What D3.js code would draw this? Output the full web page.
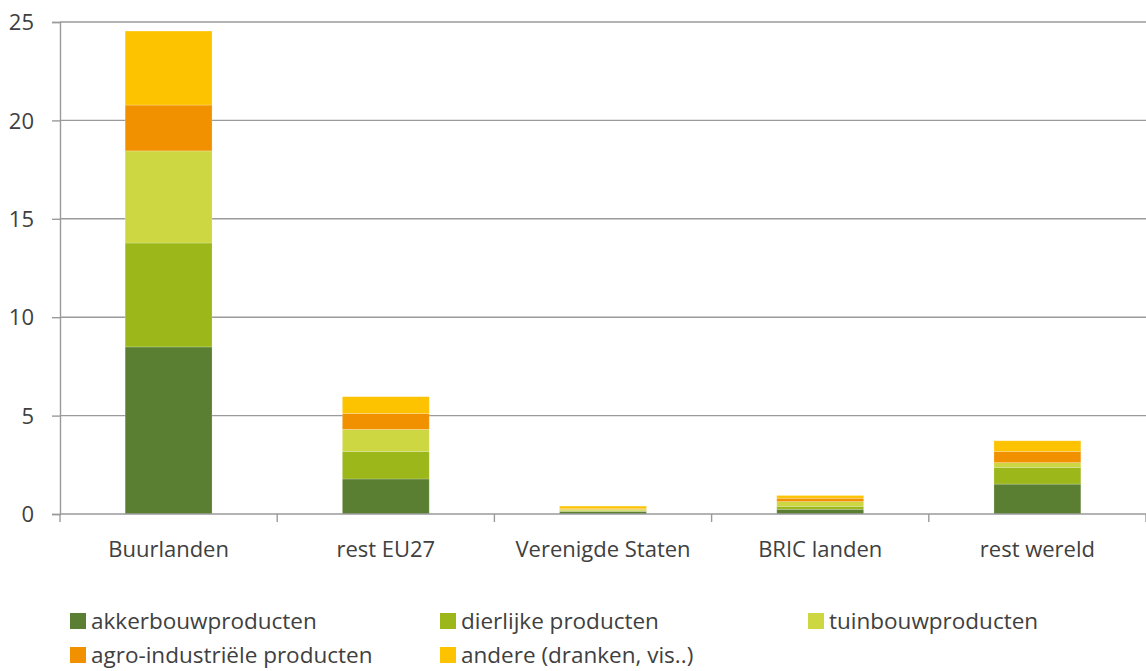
<!DOCTYPE html>
<html>
<head>
<meta charset="utf-8">
<script src="https://cdn.jsdelivr.net/npm/d3@7"></script>
<style>
  body { margin: 0; background: #fff; }
  svg text { font-family: "Open Sans", Lato, sans-serif; fill: #404040; }
</style>
</head>
<body>
<script>
const regions = ['Buurlanden', 'rest EU27', 'Verenigde Staten', 'BRIC landen', 'rest wereld'];
const series = ['akkerbouwproducten', 'dierlijke producten', 'tuinbouwproducten', 'agro-industriële producten', 'andere (dranken, vis..)'];
const colors = ['#5a7f32', '#9bb71a', '#cdd742', '#f29100', '#fdc300'];

const akker = [8.49, 1.78, 0.13, 0.24, 1.52];
const dierlijk = [5.28, 1.40, 0.03, 0.15, 0.85];
const tuinbouw = [4.68, 1.12, 0.08, 0.24, 0.24];
const agro = [2.33, 0.81, 0.03, 0.17, 0.57];
const andere = [3.76, 0.85, 0.13, 0.14, 0.54];
const yTicks = [0, 5, 10, 15, 20, 25];

const W = 1146, H = 671;
const margin = { top: 22, right: 0, bottom: 157, left: 60 };
const width = W - margin.left - margin.right;
const height = H - margin.top - margin.bottom;

const rows = regions.map(function (r, i) {
  return { region: r, akkerbouwproducten: akker[i], 'dierlijke producten': dierlijk[i],
    tuinbouwproducten: tuinbouw[i], 'agro-industriële producten': agro[i], 'andere (dranken, vis..)': andere[i] };
});
const stacked = d3.stack().keys(series)(rows);

const x = d3.scaleBand().domain(regions).range([0, width]).paddingInner(0.6).paddingOuter(0.3);
const y = d3.scaleLinear().domain([0, 25]).range([height, 0]);
const color = d3.scaleOrdinal().domain(series).range(colors);

const svg = d3.select('body').append('svg')
  .attr('width', W).attr('height', H)
  .append('g')
  .attr('transform', 'translate(' + margin.left + ',' + margin.top + ')');

// rasterlijnen
svg.append('g')
  .selectAll('line')
  .data(yTicks.slice(1))
  .enter().append('line')
  .attr('x1', 0).attr('x2', width)
  .attr('y1', function (d) { return y(d); })
  .attr('y2', function (d) { return y(d); })
  .attr('stroke', '#9a9a9a').attr('stroke-width', 1.4);

// balken
svg.append('g')
  .selectAll('g')
  .data(stacked)
  .enter().append('g')
  .attr('fill', function (d) { return color(d.key); })
  .selectAll('rect')
  .data(function (d) { return d; })
  .enter().append('rect')
  .attr('x', function (d) { return x(d.data.region); })
  .attr('width', x.bandwidth())
  .attr('y', function (d) { return y(d[1]); })
  .attr('height', function (d) { return y(d[0]) - y(d[1]); })
  .attr('stroke', 'rgba(255,255,255,0.25)').attr('stroke-width', 0.8);

// y-as
const yAxis = d3.axisLeft(y).tickValues(yTicks).tickSize(8).tickPadding(18);
const gy = svg.append('g').call(yAxis);
gy.select('.domain').attr('stroke', '#9a9a9a').attr('stroke-width', 1.4);
gy.selectAll('.tick line').attr('stroke', '#9a9a9a').attr('stroke-width', 1.4);
gy.selectAll('.tick text').style('font-size', '22px').style('font-family', '"Open Sans", sans-serif').attr('dy', '0.35em');

// x-as
const step = width / regions.length;
const gx = svg.append('g').attr('transform', 'translate(0,' + height + ')');
gx.append('line').attr('x1', 0).attr('x2', width)
  .attr('stroke', '#9a9a9a').attr('stroke-width', 1.4);
gx.selectAll('.sep')
  .data(d3.range(regions.length + 1))
  .enter().append('line')
  .attr('x1', function (i) { return i * step; })
  .attr('x2', function (i) { return i * step; })
  .attr('y1', 0).attr('y2', 8)
  .attr('stroke', '#9a9a9a').attr('stroke-width', 1.4);
gx.selectAll('.lbl')
  .data(regions)
  .enter().append('text')
  .attr('x', function (d) { return x(d) + x.bandwidth() / 2; })
  .attr('y', 43)
  .attr('text-anchor', 'middle')
  .style('font-size', '22px')
  .text(function (d) { return d; });

// legenda
const legendPos = [[70, 621], [440, 621], [808, 621], [70, 655], [440, 655]];
const legend = d3.select('svg').append('g')
  .selectAll('g')
  .data(series)
  .enter().append('g')
  .attr('transform', function (d, i) { return 'translate(' + legendPos[i][0] + ',' + legendPos[i][1] + ')'; });
legend.append('rect')
  .attr('x', 0).attr('y', -8).attr('width', 16).attr('height', 16)
  .attr('fill', color);
legend.append('text')
  .attr('x', 21).attr('y', 0).attr('dy', '0.35em')
  .style('font-size', '22.5px')
  .text(function (d) { return d; });
</script>
</body>
</html>
